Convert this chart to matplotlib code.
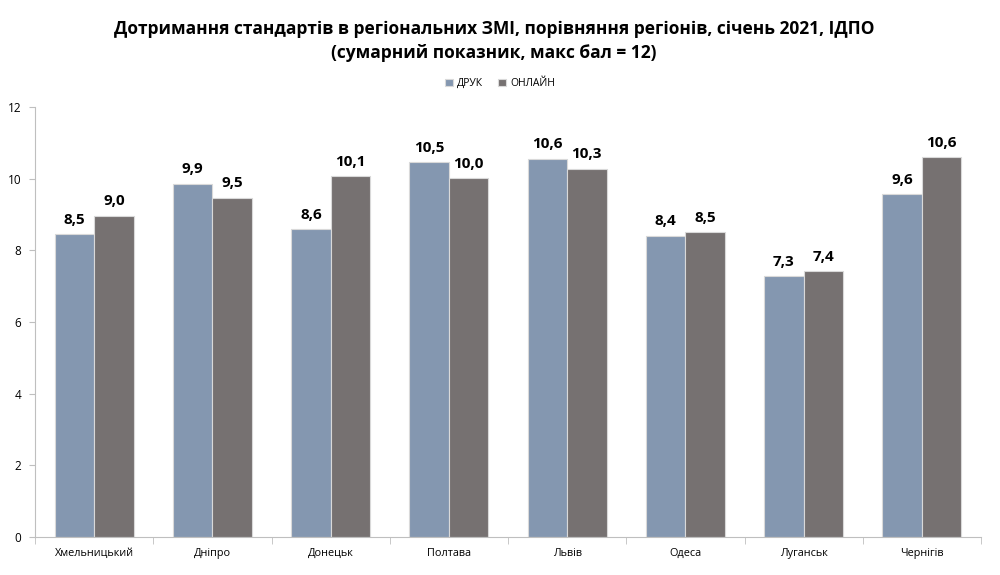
import matplotlib.pyplot as plt
import numpy as np

# Дані з діаграми
regions = ['Хмельницький', 'Дніпро', 'Донецьк', 'Полтава', 'Львів', 'Одеса', 'Луганськ', 'Чернігів']
druk = [8.46, 9.86, 8.60, 10.46, 10.56, 8.41, 7.29, 9.56]
online = [8.97, 9.47, 10.06, 10.01, 10.28, 8.52, 7.43, 10.61]
series_names = ['ДРУК', 'ОНЛАЙН']
colors = ['#8497B0', '#767171']

plt.rcParams['font.family'] = ['Open Sans', 'DejaVu Sans']

fig = plt.figure(figsize=(10, 5.75), dpi=100)
ax = fig.add_axes([0.035, 0.066, 0.946, 0.748])

x = np.arange(len(regions))
w = 0.333
b1 = ax.bar(x - w / 2, druk, w, color=colors[0], edgecolor='#D9D9D9', linewidth=0.8, label=series_names[0])
b2 = ax.bar(x + w / 2, online, w, color=colors[1], edgecolor='#D9D9D9', linewidth=0.8, label=series_names[1])

for bars, vals in [(b1, druk), (b2, online)]:
    for rect, v in zip(bars, vals):
        ax.text(rect.get_x() + rect.get_width() / 2, v + 0.2, f'{v:.1f}'.replace('.', ','),
                ha='center', va='bottom', fontsize=11, fontweight='bold', color='black')

ax.set_xlim(-0.5, len(regions) - 0.5)
ax.set_ylim(0, 12)
ax.set_yticks(range(0, 13, 2))
ax.set_xticks(x)
ax.set_xticklabels(regions)
ax.set_xticks(np.arange(-0.5, len(regions)), minor=True)
ax.tick_params(axis='x', which='major', length=0, labelsize=7.8, pad=8)
ax.tick_params(axis='x', which='minor', length=5, color='#BFBFBF', direction='out')
ax.tick_params(axis='y', length=4, color='#BFBFBF', labelsize=8.5, pad=6)

for s in ['top', 'right']:
    ax.spines[s].set_visible(False)
for s in ['left', 'bottom']:
    ax.spines[s].set_color('#BFBFBF')

fig.text(0.494, 0.965, 'Дотримання стандартів в регіональних ЗМІ, порівняння регіонів, січень 2021, ІДПО\n(сумарний показник, макс бал = 12)',
         ha='center', va='top', fontsize=12.5, fontweight='bold', linespacing=1.45)

fig.legend(loc='center', bbox_to_anchor=(0.5, 0.855), ncol=2, frameon=False, fontsize=7.5,
           handlelength=0.7, handleheight=0.7, handletextpad=0.4, columnspacing=1.5)

plt.savefig('out.png')
